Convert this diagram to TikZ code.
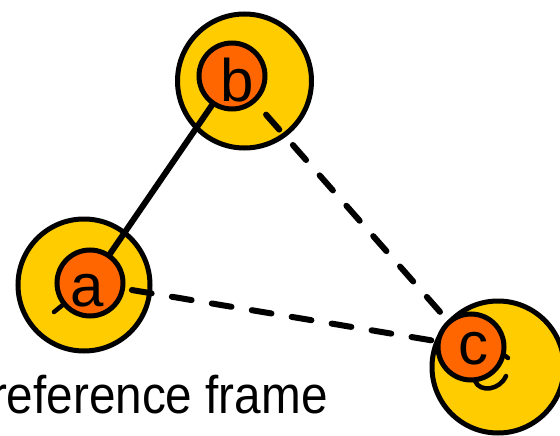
\documentclass[tikz,border=0pt]{standalone}
\usepackage{fontspec}
\setmainfont{Liberation Sans}
\usepackage{graphicx}
\definecolor{discyellow}{HTML}{FFCC00}
\definecolor{discorange}{HTML}{FF6600}
\pgfdeclarelayer{back}
\pgfdeclarelayer{mid}
\pgfsetlayers{back,mid,main}
\tikzset{
  frame disc/.style={circle, draw=black, fill=discyellow, line width=5pt,
    minimum size=132pt, inner sep=0pt, outer sep=0pt},
  body disc/.style={circle, draw=black, fill=discorange, line width=5pt,
    minimum size=66pt, inner sep=0pt, outer sep=0pt},
  tag/.style={inner sep=0pt, outer sep=0pt, font=\fontsize{60}{60}\selectfont},
  link/.style={line width=6pt, line cap=round},
  dashlink/.style={link, dash pattern=on 20pt off 20.5pt},
  ghost/.style={line width=4.5pt, line cap=round},
}
\begin{document}
\begin{tikzpicture}[x=1pt,y=-1pt]
\useasboundingbox (0,0) rectangle (560,436);

% large reference discs
\begin{pgfonlayer}{back}
  \node[frame disc] (A) at (84,285) {};
  \node[frame disc, minimum size=134pt] (B) at (244.5,81) {};
  \node[frame disc] (C) at (498,367) {};
\end{pgfonlayer}

% small bodies
\node[body disc] (oa) at (90,283) {};
\node[body disc] (ob) at (232,76) {};
\node[body disc] (oc) at (471,347) {};

% links between the bodies, under the bodies
\begin{pgfonlayer}{mid}
  \draw[link] (oa.center) -- (ob.center);
  \draw[dashlink, dash phase=29.5pt] (ob.center) -- (oc.center);
  \draw[dashlink, dash phase=38.5pt] (oa.center) -- (oc.center);
  % strokes peeking out from under the bodies
  \draw[ghost] (oa) ++(-36,29) coordinate (ga) -- (oa.center);
  \draw[ghost] (oc) ++(4,34) coordinate (gc1)
     .. controls +(5,12) and +(-6,14) .. ++(31,-5) coordinate (gc2);
\end{pgfonlayer}
\draw[ghost] (oc) ++(33,8) coordinate (gt1) -- ++(4,3) coordinate (gt2);

% labels
\node[tag] (la) at (87,291) {a};
\node[tag] (lb) at (237,80) {b};
\node[tag] (lc) at (473,349) {c};

\node[anchor=base west, inner sep=0pt, outer sep=0pt,
      font=\fontsize{53}{53}\selectfont] (cap) at (-9,413)
      {\scalebox{0.9}[1]{reference frame}};
\end{tikzpicture}
\end{document}
